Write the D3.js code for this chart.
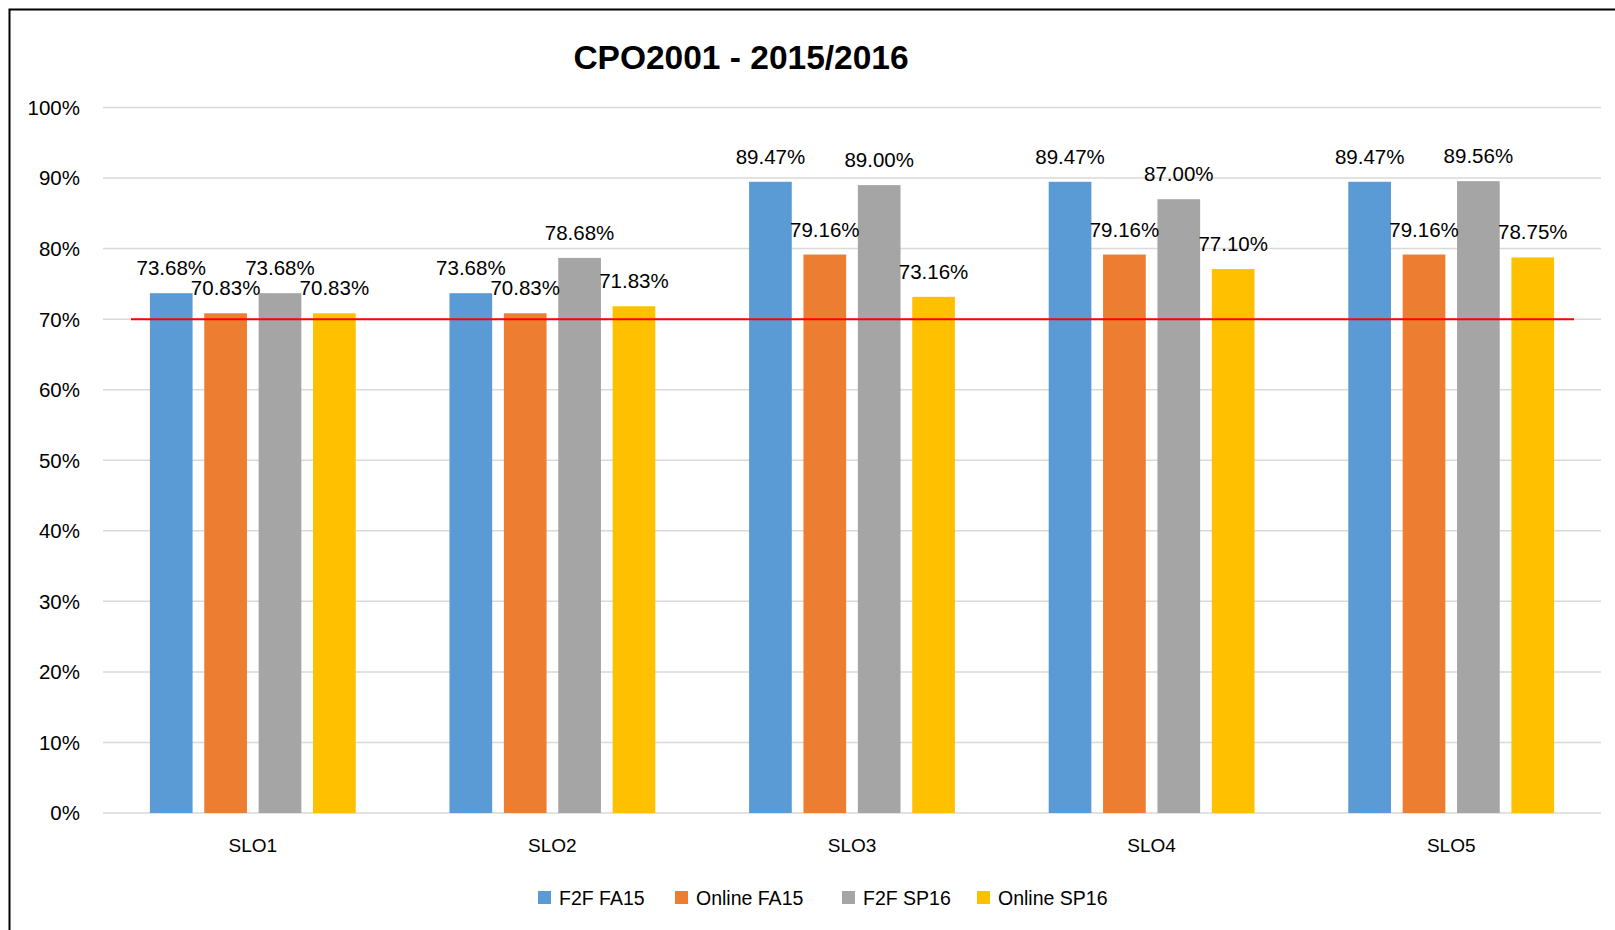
<!DOCTYPE html>
<html>
<head>
<meta charset="utf-8">
<script src="https://cdn.jsdelivr.net/npm/d3@7"></script>
<style>
  body { margin: 0; background: #fff; }
  svg { display: block; font-family: "Liberation Sans", Arial, sans-serif; }
</style>
</head>
<body>
<svg width="1615" height="930"></svg>
<script>
const categories = ["SLO1", "SLO2", "SLO3", "SLO4", "SLO5"];
const seriesNames = ["F2F FA15", "Online FA15", "F2F SP16", "Online SP16"];
const f2fFA15    = [73.68, 73.68, 89.47, 89.47, 89.47];
const onlineFA15 = [70.83, 70.83, 79.16, 79.16, 79.16];
const f2fSP16    = [73.68, 78.68, 89.00, 87.00, 89.56];
const onlineSP16 = [70.83, 71.83, 73.16, 77.10, 78.75];
const yTicks = [0, 10, 20, 30, 40, 50, 60, 70, 80, 90, 100];
const target = 70;

const colors = ["#5B9BD5", "#ED7D31", "#A5A5A5", "#FFC000"];
const series = [f2fFA15, onlineFA15, f2fSP16, onlineSP16];

const svg = d3.select("svg");

// frame (only top and left edges show in the picture)
svg.append("path")
   .attr("d", "M9.5,930 V9.5 H1615")
   .attr("fill", "none")
   .attr("stroke", "#000")
   .attr("stroke-width", 2);

const plot = {left: 103, right: 1601, top: 107.5, bottom: 813};

const x0 = d3.scaleBand()
    .domain(categories)
    .range([plot.left, plot.right])
    .paddingInner(0.274)
    .paddingOuter(0.137);

const x1 = d3.scaleBand()
    .domain(d3.range(series.length))
    .range([0, x0.bandwidth()])
    .paddingInner(0.215)
    .paddingOuter(0.1075);

const y = d3.scaleLinear().domain([0, 100]).range([plot.bottom, plot.top]);

// grid
svg.append("g")
   .selectAll("line")
   .data(yTicks)
   .join("line")
     .attr("x1", plot.left)
     .attr("x2", plot.right)
     .attr("y1", d => y(d))
     .attr("y2", d => y(d))
     .attr("stroke", "#d9d9d9")
     .attr("stroke-width", 1.5);

// y tick labels
svg.append("g")
   .selectAll("text")
   .data(yTicks)
   .join("text")
     .attr("x", 80)
     .attr("y", d => y(d))
     .attr("dy", "0.36em")
     .attr("text-anchor", "end")
     .attr("font-size", 20.5)
     .attr("fill", "#000")
     .text(d => d + "%");

// bars
const rows = categories.map((c, i) => ({cat: c, vals: series.map(s => s[i])}));

const groups = svg.append("g")
   .selectAll("g")
   .data(rows)
   .join("g")
     .attr("transform", d => `translate(${x0(d.cat)},0)`);

groups.selectAll("rect")
   .data(d => d.vals)
   .join("rect")
     .attr("x", (d, i) => x1(i))
     .attr("width", x1.bandwidth())
     .attr("y", d => y(d))
     .attr("height", d => y(0) - y(d))
     .attr("fill", (d, i) => colors[i]);

// target line
svg.append("line")
   .attr("x1", 131)
   .attr("x2", 1574)
   .attr("y1", y(target))
   .attr("y2", y(target))
   .attr("stroke", "#ff0000")
   .attr("stroke-width", 2);

// data labels
groups.selectAll("text")
   .data(d => d.vals)
   .join("text")
     .attr("x", (d, i) => x1(i) + x1.bandwidth() / 2)
     .attr("y", d => y(d) - 18)
     .attr("text-anchor", "middle")
     .attr("font-size", 20.5)
     .attr("fill", "#000")
     .text(d => d.toFixed(2) + "%");

// x labels
svg.append("g")
   .selectAll("text")
   .data(categories)
   .join("text")
     .attr("x", d => x0(d) + x0.bandwidth() / 2)
     .attr("y", 852)
     .attr("text-anchor", "middle")
     .attr("font-size", 19)
     .attr("fill", "#000")
     .text(d => d);

// title
svg.append("text")
   .attr("x", 741)
   .attr("y", 69)
   .attr("text-anchor", "middle")
   .attr("font-size", 33.5)
   .attr("font-weight", "bold")
   .attr("fill", "#000")
   .text("CPO2001 - 2015/2016");

// legend
const legendX = [538, 675, 842, 977];
const legend = svg.append("g")
   .selectAll("g")
   .data(seriesNames)
   .join("g")
     .attr("transform", (d, i) => `translate(${legendX[i]},891)`);

legend.append("rect")
   .attr("width", 13)
   .attr("height", 13)
   .attr("fill", (d, i) => colors[i]);

legend.append("text")
   .attr("x", 21)
   .attr("y", 14)
   .attr("font-size", 19.5)
   .attr("fill", "#000")
   .text(d => d);
</script>
</body>
</html>
